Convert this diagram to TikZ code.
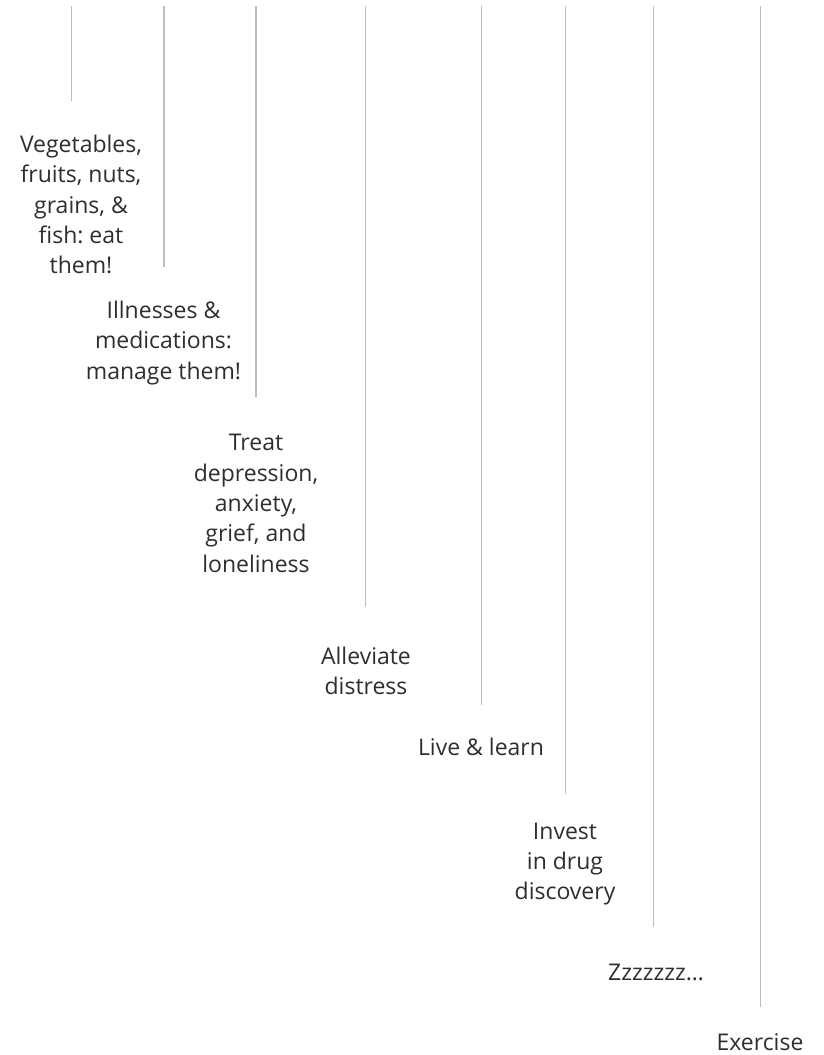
\documentclass[tikz,border=0pt]{standalone}
\usepackage{fontspec}
\setmainfont{Open Sans}
\usepackage{tikz}
\usepackage{xcolor}
\definecolor{rulegray}{HTML}{BDBDBD}
\definecolor{textgray}{HTML}{2E2E2E}
\frenchspacing
\tikzset{
  stem/.style={rulegray, line width=1.3pt},
  tip/.style={anchor=north, inner sep=0pt, align=center, text=textgray,
    font=\fontsize{23}{30.3}\selectfont}
}

\begin{document}
\begin{tikzpicture}[x=1pt,y=-1pt]
        \useasboundingbox (0,0) rectangle (823,1055);
        \draw[stem] (71.5,6) coordinate (t1) -- (71.5,101) coordinate (e1);
        \draw[stem] (164,6) coordinate (t2) -- (164,267) coordinate (e2);
        \draw[stem] (256,6) coordinate (t3) -- (256,397) coordinate (e3);
        \draw[stem] (365.5,6) coordinate (t4) -- (365.5,606.5) coordinate (e4);
        \draw[stem] (481.5,6) coordinate (t5) -- (481.5,705) coordinate (e5);
        \draw[stem] (565.5,6) coordinate (t6) -- (565.5,794) coordinate (e6);
        \draw[stem] (653.5,6) coordinate (t7) -- (653.5,926.5) coordinate (e7);
        \draw[stem] (760.5,6) coordinate (t8) -- (760.5,1007) coordinate (e8);
        \node[tip] (food) at (81,134.8) {Vegetables,\\fruits, nuts,\\grains, \&\\fish: eat\\them!};
        \node[tip] (meds) at (163.5,300.8) {Illnesses \&\\medications:\\manage them!};
        \node[tip] (mood) at (256,434.3) {Treat\\depression,\\anxiety,\\grief, and\\loneliness};
        \node[tip] (calm) at (366,646.5) {Alleviate\\distress};
        \node[tip] (learn) at (481,737.5) {Live \& learn};
        \node[tip] (drugs) at (565,822.6) {Invest\\in drug\\discovery};
        \node[tip] (sleep) at (656,963.6) {Zzzzzzz…};
        \node[tip] (move) at (760,1033) {Exercise};
    \end{tikzpicture}
\end{document}
